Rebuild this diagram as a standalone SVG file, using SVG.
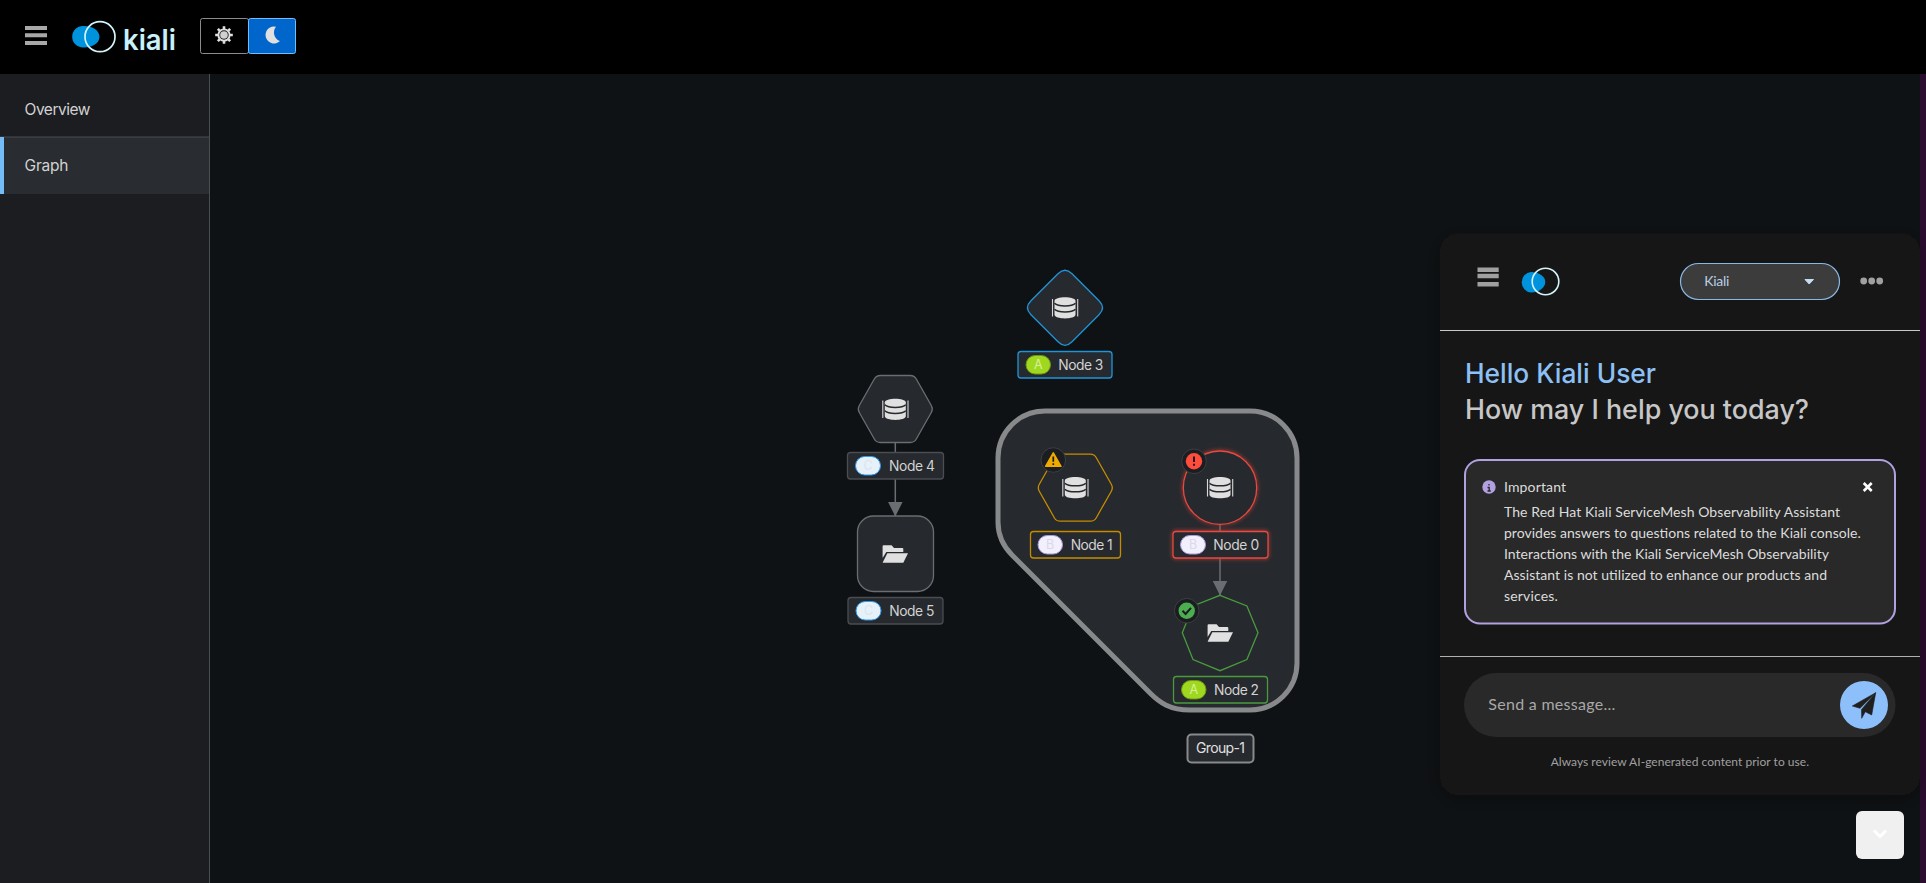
<svg xmlns="http://www.w3.org/2000/svg" width="1926" height="883" viewBox="0 0 1926 883">
<style>
text{font-family:"Lato","Noto Sans",sans-serif}
.ui{font-family:"Inter","Noto Sans",sans-serif}
.nav{font-family:"Inter","Noto Sans",sans-serif;font-size:15.5px;fill:#d2d2d2}
.shape{fill:#26292d;stroke-width:1.3}
.lab{fill:#26292d;stroke-width:1.3}
.ltxt{font-family:"Inter","Noto Sans",sans-serif;font-size:13.8px;fill:#d2d2d2}
.btxt{font-family:"Inter","Noto Sans",sans-serif;font-size:12.5px;text-anchor:middle}
.badge{stroke-width:1}
.a{fill:#9fd81f;stroke:#6b9a12}.at{fill:#d8ef9a}
.b{fill:#f2f0fc;stroke:#a99be0}.bt{fill:#dcd8ea}
.c{fill:#e7f1fa;stroke:#2b9af3}.ct{fill:#dbe4ec}
.s-def{stroke:#6a6e73}.s-lab{stroke:#4a4d51}
.s-blue{stroke:#1f95d8}.s-gold{stroke:#c58c00}.s-red{stroke:#e8483f}.s-green{stroke:#4a9b3f}
.body{font-size:14px;fill:#dcdcdc}
.icon{fill:#e0e0e0}
.edge{stroke:#6a6e73;stroke-width:1.5;fill:none;marker-end:url(#arrow)}
.st{fill:#1b1d21;stroke:#3c3f42;stroke-width:1}
</style>
<defs>
<marker id="arrow" markerUnits="userSpaceOnUse" markerWidth="15" markerHeight="15" refX="15" refY="7.5" orient="auto"><path d="M0,0L15,7.5L0,15Z" fill="#6a6e73"/></marker>
<path id="hex" d="M-36,-3.5L-21,-30Q-19,-33.5-15,-33.5H15Q19,-33.5 21,-30L36,-3.5Q38,0 36,3.5L21,30Q19,33.5 15,33.5H-15Q-19,33.5-21,30L-36,3.5Q-38,0-36,-3.5Z"/>
<g id="db">
<path class="icon" d="M-10.5,-7C-10.5,-11.8 10.5,-11.8 10.5,-7V7C10.5,11.8-10.5,11.8-10.5,7Z"/>
<path d="M-10.5,-4.5C-7,-1 7,-1 10.5,-4.5M-10.5,1.5C-7,5 7,5 10.5,1.5" fill="none" stroke="#26292d" stroke-width="1.5"/>
<path d="M-12.5,-8.7V8.7M12.7,-8.7V8.7" stroke="#d8d8d8" stroke-width="1.1"/>
</g>
<g id="folder">
<path class="icon" d="M-12.7,4V-7.7Q-12.7,-8.7-11.7,-8.7H-3.7L-1.3,-6H7Q8,-6 8,-5V-2H-9Z"/>
<path class="icon" d="M-8,-.7H12.7L8,8.7H-12.7Z"/>
</g>
<filter id="glow" x="-30%" y="-30%" width="160%" height="160%"><feGaussianBlur in="SourceGraphic" stdDeviation="2.2" result="b"/><feMerge><feMergeNode in="b"/><feMergeNode in="SourceGraphic"/></feMerge></filter>
<filter id="sh" x="-10%" y="-10%" width="120%" height="120%"><feDropShadow dx="0" dy="4" stdDeviation="10" flood-color="#000" flood-opacity=".35"/></filter>
</defs>

<rect width="1926" height="883" fill="#0f1214"/>
<rect x="1920" y="0" width="6" height="883" fill="#2b0d2f"/>

<g id="sidebar">
<rect x="0" y="74" width="209" height="809" fill="#1b1d21"/>
<rect x="209" y="74" width="1" height="809" fill="#4a4d51"/>
<rect x="0" y="137" width="209" height="57" fill="#292c30"/>
<rect x="0" y="136.5" width="209" height="1" fill="#4a4d51"/>
<rect x="0" y="137" width="4" height="57" fill="#73bcf7"/>
<text class="nav" x="24.5" y="115" textLength="66">Overview</text>
<text class="nav" x="24.5" y="171" textLength="44">Graph</text>
</g>

<g id="masthead">
<rect width="1926" height="74" fill="#000"/>
<path d="M25,28H47M25,35.2H47M25,43H47" stroke="#a8a8a8" stroke-width="4"/>
<path d="M83,25.9C92,25.5 99.5,30 99.5,36.7C99.5,43.4 92,47.8 83,47.5A10.8,10.8 0 0 1 83,25.9Z" fill="#0093dd"/>
<circle cx="100" cy="36.7" r="15" fill="none" stroke="#d5f3fb" stroke-width="1.7"/>
<text class="ui" x="123" y="49.5" font-size="29" font-weight="600" fill="#c9f0fc" textLength="53" lengthAdjust="spacingAndGlyphs">kiali</text>
<rect x="200.5" y="18.5" width="48" height="35" rx="2" fill="#000" stroke="#8a8d90"/>
<rect x="248.5" y="18.5" width="47" height="35" rx="2" fill="#06c" stroke="#73bcf7"/>
<g transform="translate(224,35)">
<path d="M0,-8.8V-6M0,8.8V6M-8.8,0H-6M8.8,0H6M-6.2,-6.2L-4.3,-4.3M6.2,6.2L4.3,4.3M-6.2,6.2L-4.3,4.3M6.2,-6.2L4.3,-4.3" stroke="#e0e0e0" stroke-width="2.6"/>
<circle r="6.6" fill="#e0e0e0"/>
<circle r="4.7" fill="#1a1a1a"/>
<circle r="3.8" fill="#d0d0d0"/>
</g>
<path d="M276,26.7A8.5,8.5 0 1 0 280,41A8.8,9 0 0 1 276,26.7Z" fill="#e0e0e0"/>
</g>

<g id="group-1">
<path d="M998,458A47,47 0 0 1 1045,411H1250A47,47 0 0 1 1297,458V663A47,47 0 0 1 1250,710H1190C1170,710 1160,703 1150,693L1012,555C1002,545 998,535 998,522Z" fill="#26292d" stroke="#88898b" stroke-width="5"/>
<rect x="1187.5" y="734.5" width="66" height="28" rx="4" fill="#26292d" stroke="#88898b" stroke-width="2"/>
<text class="ui" x="1196" y="752.7" font-size="14" fill="#e0e0e0" textLength="49">Group-1</text>
</g>

<g id="connectors">
<path class="edge" d="M895.3,442V516.5"/>
<path class="edge" d="M1220,524V595.5"/>
</g>

<g id="node-3">
<path class="shape s-blue" transform="translate(1065,307.8)" d="M-7,-34Q0,-41 7,-34L34,-7Q41,0 34,7L7,34Q0,41-7,34L-34,7Q-41,0-34,-7Z"/>
<use href="#db" x="1065" y="307.8"/>
<rect class="lab s-blue" x="1018" y="351.5" width="94" height="26.5" rx="3"/>
<rect class="badge a" x="1026" y="355.5" width="24.5" height="18.5" rx="9.2"/>
<text class="btxt at" x="1038.2" y="369.3">A</text>
<text class="ltxt" x="1058.3" y="370" textLength="45">Node 3</text>
</g>

<g id="node-4">
<use href="#hex" class="shape s-def" x="895.3" y="409"/>
<use href="#db" x="895.3" y="409.3"/>
<rect class="lab s-lab" x="847.5" y="452.5" width="96" height="26.5" rx="3"/>
<rect class="badge c" x="855.5" y="456.5" width="25" height="18.5" rx="9.2"/>
<text class="btxt ct" x="868" y="470.3">C</text>
<text class="ltxt" x="889" y="471" textLength="46">Node 4</text>
</g>

<g id="node-5">
<rect class="shape s-def" x="857.5" y="516" width="76" height="75.5" rx="16"/>
<use href="#folder" x="895.3" y="554"/>
<rect class="lab s-lab" x="848" y="597.5" width="95" height="26.5" rx="3"/>
<rect class="badge c" x="856" y="601.5" width="25" height="18.5" rx="9.2"/>
<text class="btxt ct" x="868.5" y="615.3">C</text>
<text class="ltxt" x="889.3" y="616" textLength="45">Node 5</text>
</g>

<g id="node-1">
<use href="#hex" class="shape s-gold" x="1075.3" y="487.7"/>
<use href="#db" x="1075.3" y="487.7"/>
<rect class="lab s-gold" x="1030.5" y="531.5" width="90" height="26.5" rx="3"/>
<rect class="badge b" x="1038" y="535.5" width="24.5" height="18.5" rx="9.2"/>
<text class="btxt bt" x="1050.2" y="549.3">B</text>
<text class="ltxt" x="1070.7" y="550" textLength="42">Node 1</text>
<circle class="st" cx="1053.3" cy="460" r="12.3"/>
<path d="M1053.3,452.8L1061,466.3H1045.6Z" fill="#f0ab00" stroke="#f0ab00" stroke-width="1.5" stroke-linejoin="round"/>
<path d="M1053.3,456.5V461.8M1053.3,463.2V465" stroke="#1b1d21" stroke-width="1.7"/>
</g>

<g id="node-0">
<circle class="shape s-red" cx="1220" cy="487.7" r="36.7" filter="url(#glow)"/>
<use href="#db" x="1220" y="487.7"/>
<rect class="lab s-red" x="1173" y="531.5" width="95" height="26.5" rx="3" filter="url(#glow)"/>
<rect class="badge b" x="1180.5" y="535.5" width="25" height="18.5" rx="9.2"/>
<text class="btxt bt" x="1193" y="549.3">B</text>
<text class="ltxt" x="1213.3" y="550" textLength="46">Node 0</text>
<circle class="st" cx="1194" cy="461.3" r="12.3"/>
<circle cx="1194" cy="461.3" r="8.2" fill="#ff4c3c"/>
<path d="M1194,456.5V462M1194,463.7V465.8" stroke="#1b1d21" stroke-width="2"/>
</g>

<g id="node-2">
<path class="shape s-green" d="M1220,595.3L1246.9,606L1258,632.7L1246.9,659.6L1220,670.7L1193,659.6L1182.3,632.7L1193,606Z"/>
<use href="#folder" x="1220.3" y="633"/>
<rect class="lab s-green" x="1173.5" y="676.5" width="94" height="26.5" rx="3"/>
<rect class="badge a" x="1181.5" y="680.5" width="24.5" height="18.5" rx="9.2"/>
<text class="btxt at" x="1193.7" y="694.3">A</text>
<text class="ltxt" x="1214" y="694.7" textLength="45">Node 2</text>
<circle class="st" cx="1186.7" cy="610.7" r="12.3"/>
<circle cx="1186.7" cy="610.7" r="8.2" fill="#4cae50"/>
<path d="M1182.5,610.8L1185.6,614L1191,607.8" fill="none" stroke="#1b1d21" stroke-width="2"/>
</g>

<g id="chat-panel">
<rect x="1440" y="233.5" width="480" height="561.5" rx="18" fill="#151515" filter="url(#sh)"/>
<path d="M1477.5,269.7H1498.7M1477.5,276H1498.7M1477.5,284.3H1498.7" stroke="#a0a0a0" stroke-width="4.6"/>
<path d="M1531,272C1539,272 1545.3,276.5 1545.3,282C1545.3,287.5 1539,292.5 1531,292.5A10.3,10.3 0 0 1 1531,272Z" fill="#0093dd"/>
<circle cx="1545.5" cy="281.5" r="13.3" fill="none" stroke="#d5f3fb" stroke-width="1.6"/>
<rect x="1680.5" y="263.5" width="159" height="36" rx="18" fill="#3c3c3c" stroke="#8ab8e6" stroke-width="1.2"/>
<text x="1704.3" y="286" font-size="14" fill="#b9cfe6" textLength="25">Kiali</text>
<path d="M1805,279.5H1813.5L1809.2,284Z" fill="#c6dcf2" stroke="#c6dcf2" stroke-linejoin="round"/>
<circle cx="1863.7" cy="281" r="3.4" fill="#a0a0a0"/><circle cx="1871.7" cy="281" r="3.4" fill="#a0a0a0"/><circle cx="1879.7" cy="281" r="3.4" fill="#a0a0a0"/>
<rect x="1440" y="330" width="480" height="1" fill="#c8c8c8"/>
<text class="ui" x="1465" y="382.7" font-size="26.5" font-weight="500" fill="#8dc0f5" textLength="191" lengthAdjust="spacingAndGlyphs">Hello Kiali User</text>
<text class="ui" x="1465" y="418.7" font-size="26.5" font-weight="500" fill="#c7c7c7" textLength="344" lengthAdjust="spacingAndGlyphs">How may I help you today?</text>
<rect x="1465" y="460" width="430" height="163.5" rx="15" fill="#292929" stroke="#b2a0e0" stroke-width="2"/>
<circle cx="1489" cy="487" r="6.7" fill="#b2a0e0"/>
<path d="M1489,484V485.5M1487.5,487.5H1489.2V491M1487.5,491H1490.8" stroke="#292929" stroke-width="1.3" fill="none"/>
<text class="body" x="1504" y="492" textLength="62">Important</text>
<path d="M1863.7,483L1871.7,491M1871.7,483L1863.7,491" stroke="#fff" stroke-width="2.6"/>
<text class="body" x="1504" y="516.7" textLength="336">The Red Hat Kiali ServiceMesh Observability Assistant</text>
<text class="body" x="1504" y="537.7" textLength="356.7">provides answers to questions related to the Kiali console.</text>
<text class="body" x="1504" y="558.7" textLength="325">Interactions with the Kiali ServiceMesh Observability</text>
<text class="body" x="1504" y="579.7" textLength="323">Assistant is not utilized to enhance our products and</text>
<text class="body" x="1504" y="600.7" textLength="53.7">services.</text>
<rect x="1440" y="656" width="480" height="1" fill="#b0b0b0"/>
<rect x="1464" y="673" width="431.5" height="64" rx="32" fill="#292929"/>
<text x="1488.3" y="710" font-size="16" fill="#a8a8a8" textLength="127">Send a message...</text>
<circle cx="1864" cy="705" r="24" fill="#8dc0fb"/>
<path d="M1875.7,692.7L1852.3,706L1860,708.3ZM1875.7,692.7L1861.5,709.5L1861.7,718.3L1865.3,711.7L1871.7,715Z" fill="#1f1f1f" stroke="#1f1f1f" stroke-width=".6" stroke-linejoin="round"/>
<text x="1550.7" y="766" font-size="12" fill="#a0a0a0" textLength="258.3">Always review AI-generated content prior to use.</text>
</g>

<g id="scroll-button">
<rect x="1856" y="811" width="48" height="48" rx="6" fill="#f0f0f0"/>
<path d="M1874,830.5L1880,836.5L1886,830.5" fill="none" stroke="#fff" stroke-width="3"/>
</g>
</svg>
